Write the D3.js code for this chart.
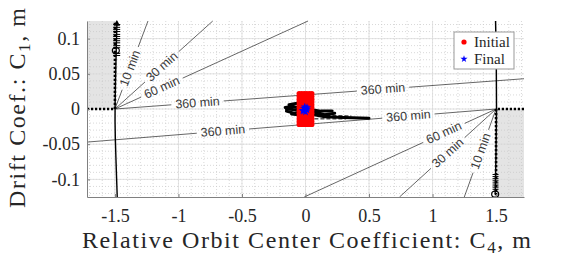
<!DOCTYPE html>
<html>
<head>
<meta charset="utf-8">
<script src="https://cdn.jsdelivr.net/npm/d3@7"></script>
<style>
  body { margin: 0; background: #fff; }
  svg { display: block; }
  .tick text { font-family: "Liberation Serif", "Times New Roman", serif; fill: #262626; }
</style>
</head>
<body>
<div id="chart"></div>
<script>
// axis ticks
const xTicks = [-1.5, -1, -0.5, 0, 0.5, 1, 1.5];
const xTickLabels = ["-1.5", "-1", "-0.5", "0", "0.5", "1", "1.5"];
const yTicks = [-0.1, -0.05, 0, 0.05, 0.1];
const yTickLabels = ["-0.1", "-0.05", "0", "0.05", "0.1"];

// time-of-flight contour lines (start point, end points, label positions in C4)
const contourLabels = ["10 min", "30 min", "60 min", "360 min"];
const leftOrigin = [-1.5, 0];
const leftEnds = [[-1.24, 0.125], [-0.73, 0.125], [0.02, 0.125], [1.72, 0.043]];
const leftLabelX = [[-1.38], [-1.13], [-1.13], [-0.85, 0.61]];
const rightOrigin = [1.5, 0];
const rightEnds = [[1.25, -0.125], [0.74, -0.125], [-0.01, -0.125], [-1.72, -0.047]];
const rightLabelX = [[1.38], [1.12], [1.09], [-0.65, 0.81]];

// boundary trajectories near C4 = +/-1.5
const leftWall = [[-1.484, 0.124], [-1.492, 0.07], [-1.5, 0.0], [-1.5, -0.03], [-1.482, -0.125]];
const rightWall = [[1.496, 0.125], [1.503, 0.06], [1.505, 0.0], [1.5, -0.06], [1.493, -0.121]];
const leftHatchY = [0.12, 0.116, 0.113, 0.11, 0.106, 0.103, 0.1, 0.097, 0.094, 0.09, 0.087, 0.079, 0.076];
const rightHatchY = [-0.093, -0.096, -0.099, -0.102, -0.105, -0.108, -0.111, -0.114];
const wallCircles = [[-1.493, 0.083], [1.493, -0.121]];

// samples: initial grid, final points, drift trails
const initX = [-0.05, -0.03, -0.01, 0.01, 0.03, 0.05];
const initY = [-0.022, -0.018, -0.014, -0.01, -0.006, -0.002, 0.002, 0.006, 0.01, 0.014, 0.018, 0.022];
const finalX = [-0.02, -0.01, 0, 0.01, 0.012, -0.015, 0.005, -0.005];
const finalY = [-0.002, 0.001, -0.004, -0.001, 0.002, -0.003, 0.0, 0.003];
const trails = [
  [[-0.16, 0.002], [-0.1, 0.004], [-0.04, 0.001], [0, -0.002]],
  [[-0.15, -0.003], [-0.09, -0.006], [-0.03, -0.004], [0, -0.002]],
  [[-0.13, 0.006], [-0.07, 0.008], [-0.02, 0.003]],
  [[-0.15, 0.0], [-0.08, -0.001], [-0.02, -0.001]],
  [[-0.11, -0.007], [-0.06, -0.008], [-0.02, -0.005]],
  [[0.23, -0.006], [0.15, -0.008], [0.07, -0.004], [0, -0.002]],
  [[0.21, -0.003], [0.12, -0.003], [0.05, -0.001]],
  [[0.18, -0.009], [0.11, -0.009], [0.05, -0.006]],
  [[0.5, -0.013], [0.3, -0.012], [0.15, -0.011], [0.06, -0.008]]
];
const dashedTrails = [
  [[0.07, -0.009], [0.36, -0.010]],
  [[0.07, -0.014], [0.32, -0.014]]
];

const width = 582, height = 265,
  margin = ({top: 21, right: 58, bottom: 68, left: 87});

const svg = d3.select("#chart").append("svg")
  .attr("width", width).attr("height", height)
  .attr("viewBox", [0, 0, width, height]);

const x = d3.scaleLinear().domain([-1.72, 1.72]).range([margin.left, width - margin.right]);
const y = d3.scaleLinear().domain([-0.125, 0.125]).range([height - margin.bottom, margin.top]);
const line = d3.line().x(d => x(d[0])).y(d => y(d[1]));

// shaded forbidden regions
svg.append("rect").attr("fill", "#e4e4e4")
  .attr("x", x(-1.72)).attr("y", y(0.125))
  .attr("width", x(-1.5) - x(-1.72)).attr("height", y(0) - y(0.125));
svg.append("rect").attr("fill", "#e4e4e4")
  .attr("x", x(1.5)).attr("y", y(0))
  .attr("width", x(1.72) - x(1.5)).attr("height", y(-0.125) - y(0));

// grid: minor dotted, major solid
const grid = svg.append("g");
grid.selectAll(".mx").data(x.ticks(35)).join("line")
  .attr("x1", d => x(d)).attr("x2", d => x(d))
  .attr("y1", margin.top).attr("y2", height - margin.bottom)
  .attr("stroke", "#c8c8c8").attr("stroke-width", 0.7).attr("stroke-dasharray", "1,2");
grid.selectAll(".my").data(y.ticks(25)).join("line")
  .attr("y1", d => y(d)).attr("y2", d => y(d))
  .attr("x1", margin.left).attr("x2", width - margin.right)
  .attr("stroke", "#c8c8c8").attr("stroke-width", 0.7).attr("stroke-dasharray", "1,2");
grid.selectAll(".gx").data(xTicks).join("line")
  .attr("x1", d => x(d)).attr("x2", d => x(d))
  .attr("y1", margin.top).attr("y2", height - margin.bottom)
  .attr("stroke", "#dcdcdc").attr("stroke-width", 0.8);
grid.selectAll(".gy").data(yTicks).join("line")
  .attr("y1", d => y(d)).attr("y2", d => y(d))
  .attr("x1", margin.left).attr("x2", width - margin.right)
  .attr("stroke", "#dcdcdc").attr("stroke-width", 0.8);

// contour lines with inline labels
function drawContours(origin, ends, labelXs) {
  ends.forEach((end, i) => {
    const p0 = [x(origin[0]), y(origin[1])], p1 = [x(end[0]), y(end[1])];
    const len = Math.hypot(p1[0] - p0[0], p1[1] - p0[1]);
    let ang = Math.atan2(p1[1] - p0[1], p1[0] - p0[0]) * 180 / Math.PI;
    if (ang > 90) ang -= 180;
    if (ang < -90) ang += 180;
    const gaps = [];
    labelXs[i].forEach(lx => {
      const t = (lx - origin[0]) / (end[0] - origin[0]);
      const px = p0[0] + t * (p1[0] - p0[0]), py = p0[1] + t * (p1[1] - p0[1]);
      const txt = svg.append("text")
        .attr("transform", `translate(${px},${py}) rotate(${ang})`)
        .attr("text-anchor", "middle").attr("dominant-baseline", "central")
        .attr("font-family", "Liberation Sans, Arial, sans-serif")
        .attr("font-size", 12.5).attr("fill", "#3a3a3a")
        .text(contourLabels[i]);
      const half = txt.node().getComputedTextLength() / 2 + 4;
      gaps.push([t * len - half, t * len + half]);
    });
    gaps.sort((a, b) => a[0] - b[0]);
    const dash = [];
    let cur = 0;
    gaps.forEach(g => { dash.push(Math.max(g[0] - cur, 0), g[1] - g[0]); cur = g[1]; });
    dash.push(Math.max(len - cur, 0), len);
    svg.insert("path", "text")
      .attr("d", line([origin, end]))
      .attr("fill", "none").attr("stroke", "#000").attr("stroke-width", 0.6)
      .attr("stroke-dasharray", dash.join(","));
  });
}
drawContours(leftOrigin, leftEnds, leftLabelX);
drawContours(rightOrigin, rightEnds, rightLabelX);

// region boundaries (thick dotted)
const bound = [
  [[-1.72, 0], [-1.5, 0], [-1.5, 0.125]],
  [[1.72, 0], [1.5, 0], [1.5, -0.125]]
];
svg.selectAll(".bound").data(bound).join("path")
  .attr("d", line).attr("fill", "none")
  .attr("stroke", "#000").attr("stroke-width", 2.6).attr("stroke-dasharray", "2.2,1.8");

// walls
svg.selectAll(".wall").data([leftWall, rightWall]).join("path")
  .attr("d", d3.line().curve(d3.curveBasis).x(d => x(d[0])).y(d => y(d[1])))
  .attr("fill", "none").attr("stroke", "#000").attr("stroke-width", 1.4);
svg.selectAll(".lh").data(leftHatchY).join("line")
  .attr("x1", x(-1.49) - 3).attr("x2", x(-1.49) + 4)
  .attr("y1", d => y(d)).attr("y2", d => y(d))
  .attr("stroke", "#000").attr("stroke-width", 1);
svg.selectAll(".rh").data(rightHatchY).join("line")
  .attr("x1", x(1.496) - 3).attr("x2", x(1.496) + 3)
  .attr("y1", d => y(d)).attr("y2", d => y(d))
  .attr("stroke", "#000").attr("stroke-width", 1);
svg.selectAll(".wc").data(wallCircles).join("ellipse")
  .attr("cx", d => x(d[0])).attr("cy", d => y(d[1]))
  .attr("rx", 3.5).attr("ry", 3)
  .attr("fill", "none").attr("stroke", "#000").attr("stroke-width", 1.2);
svg.append("path")
  .attr("d", d3.symbol(d3.symbolTriangle, 18)())
  .attr("transform", `translate(${x(-1.485)},${y(0.121)})`)
  .attr("fill", "#000");

// drift trails
svg.selectAll(".trail").data(trails).join("path")
  .attr("d", line).attr("fill", "none")
  .attr("stroke", "#000").attr("stroke-width", 3).attr("stroke-linecap", "round");
svg.selectAll(".dtrail").data(dashedTrails).join("path")
  .attr("d", line).attr("fill", "none")
  .attr("stroke", "#000").attr("stroke-width", 1).attr("stroke-dasharray", "4,2");

// initial and final points
const initPts = d3.cross(initX, initY);
svg.selectAll(".init").data(initPts).join("circle")
  .attr("cx", d => x(d[0])).attr("cy", d => y(d[1])).attr("r", 2.6)
  .attr("fill", "#ff0000");
const finalPts = d3.zip(finalX, finalY);
svg.selectAll(".final").data(finalPts).join("path")
  .attr("d", d3.symbol(d3.symbolStar, 22)())
  .attr("transform", d => `translate(${x(d[0])},${y(d[1])})`)
  .attr("fill", "#0000ff");

// axes
const xAxis = g => g
  .attr("transform", `translate(0,${height - margin.bottom})`)
  .call(d3.axisBottom(x).tickValues(xTicks).tickFormat((d, i) => xTickLabels[i])
    .tickSizeInner(-3).tickSizeOuter(0).tickPadding(12))
  .call(g => g.select(".domain").attr("stroke", "#808080"))
  .call(g => g.selectAll(".tick line").attr("stroke", "#808080"))
  .call(g => g.selectAll(".tick text").attr("font-size", 18));
const yAxis = g => g
  .attr("transform", `translate(${margin.left},0)`)
  .call(d3.axisLeft(y).tickValues(yTicks).tickFormat((d, i) => yTickLabels[i])
    .tickSizeInner(-3).tickSizeOuter(0).tickPadding(7))
  .call(g => g.select(".domain").attr("stroke", "#808080"))
  .call(g => g.selectAll(".tick line").attr("stroke", "#808080"))
  .call(g => g.selectAll(".tick text").attr("font-size", 18));
svg.append("g").call(xAxis);
svg.append("g").call(yAxis);

// axis titles
const xt = svg.append("text")
  .attr("x", 306.5).attr("y", 248).attr("text-anchor", "middle")
  .attr("font-family", "Liberation Serif, Times New Roman, serif")
  .attr("font-size", 24).attr("fill", "#262626")
  .attr("textLength", 449).attr("lengthAdjust", "spacing");
xt.append("tspan").text("Relative  Orbit  Center  Coefficient:  C");
xt.append("tspan").attr("font-size", 17).attr("dy", 5).text("4");
xt.append("tspan").attr("dy", -5).text(",  m");

const yt = svg.append("text")
  .attr("transform", "translate(25,108) rotate(-90)").attr("text-anchor", "middle")
  .attr("font-family", "Liberation Serif, Times New Roman, serif")
  .attr("font-size", 24).attr("fill", "#262626")
  .attr("textLength", 200).attr("lengthAdjust", "spacing");
yt.append("tspan").text("Drift  Coef.:  C");
yt.append("tspan").attr("font-size", 17).attr("dy", 5).text("1");
yt.append("tspan").attr("dy", -5).text(",  m");

// legend
const legend = svg.append("g").attr("transform", "translate(454,32)");
legend.append("rect").attr("width", 60).attr("height", 37)
  .attr("fill", "#fff").attr("stroke", "#999").attr("stroke-width", 1);
legend.append("circle").attr("cx", 10).attr("cy", 10).attr("r", 2.6).attr("fill", "#ff0000");
legend.append("path").attr("d", d3.symbol(d3.symbolStar, 16)())
  .attr("transform", "translate(10,27)").attr("fill", "#0000ff");
legend.selectAll(".lt").data(["Initial", "Final"]).join("text")
  .attr("x", 20).attr("y", (d, i) => 15 + i * 17)
  .attr("font-family", "Liberation Serif, Times New Roman, serif")
  .attr("font-size", 15).attr("fill", "#262626")
  .text(d => d);
</script>
</body>
</html>
